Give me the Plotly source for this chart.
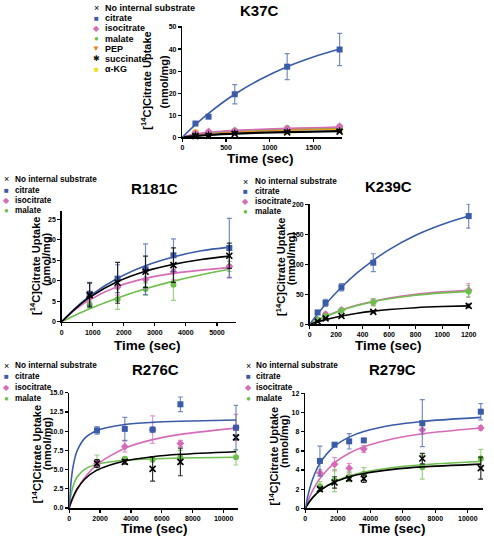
import plotly.graph_objects as go

W, H = 494, 539
FONT = "Liberation Sans, Arial, Helvetica, sans-serif"

C_NONE = "#000000"
C_CIT = "#3a5ba8"
C_ISO = "#d66cb8"
C_MAL = "#6cbf4a"
C_PEP = "#f37a21"
C_SUC = "#111111"
C_AKG = "#efe21a"

# ---------------- K37C ----------------
k37_t = [150, 300, 600, 1200, 1800]
k37_none = [0.5, 0.6, 1.5, 2.2, 2.5]
k37_none_err = [0.3, 0.3, 0.3, 0.3, 0.3]
k37_citrate = [6.2, 9.3, 19.5, 32.0, 39.8]
k37_citrate_err = [0.5, 0.6, 4.4, 5.9, 7.3]
k37_isocitrate = [2.0, 2.6, 3.0, 4.0, 5.0]
k37_isocitrate_err = [0.4, 0.4, 0.4, 0.5, 0.5]
k37_malate = [1.5, 2.0, 3.0, 4.2, 4.5]
k37_malate_err = [0.4, 0.4, 0.4, 0.4, 0.4]
k37_pep = [2.0, 2.2, 2.8, 3.5, 4.0]
k37_pep_err = [0.3, 0.3, 0.3, 0.3, 0.3]
k37_succinate = [1.0, 1.2, 2.0, 2.5, 3.0]
k37_succinate_err = [0.3, 0.3, 0.3, 0.3, 0.3]
k37_akg = [2.2, 1.5, 2.4, 2.5, 3.5]
k37_akg_err = [0.3, 0.3, 0.3, 0.3, 0.3]
k37_fit_t = [0, 150, 300, 450, 600, 900, 1200, 1500, 1800]
k37_fit_none = [0, 0.5, 0.9, 1.2, 1.5, 1.9, 2.2, 2.4, 2.6]
k37_fit_citrate = [0, 5.7, 10.8, 15.4, 19.5, 26.4, 32.0, 36.4, 40.0]
k37_fit_isocitrate = [0, 1.4, 2.2, 2.7, 3.1, 3.6, 4.0, 4.3, 4.6]
k37_fit_malate = [0, 1.2, 2.0, 2.5, 2.9, 3.4, 3.8, 4.1, 4.4]
k37_fit_pep = [0, 1.2, 1.9, 2.3, 2.6, 3.0, 3.4, 3.7, 3.9]
k37_fit_succinate = [0, 0.6, 1.1, 1.5, 1.8, 2.2, 2.5, 2.7, 2.9]
k37_fit_akg = [0, 1.1, 1.8, 2.2, 2.5, 2.9, 3.2, 3.5, 3.7]

# ---------------- R181C ----------------
r181_t = [900, 1800, 2700, 3600, 5400]
r181_none = [6.5, 9.5, 12.2, 13.8, 16.1]
r181_none_err = [2.9, 5.0, 3.8, 4.2, 3.1]
r181_citrate = [6.8, 10.5, 12.8, 16.2, 18.0]
r181_citrate_err = [2.8, 3.4, 6.2, 4.0, 7.2]
r181_isocitrate = [6.0, 8.5, 10.3, 12.2, 13.5]
r181_isocitrate_err = [1.5, 2.0, 2.2, 2.0, 2.9]
r181_malate = [4.2, 5.5, 8.0, 9.0, 13.5]
r181_malate_err = [0.8, 2.5, 1.5, 3.8, 1.2]
r181_fit_t = [0, 450, 900, 1800, 2700, 3600, 4500, 5400]
r181_fit_none = [0, 3.27, 5.92, 9.8, 12.34, 14.0, 15.2, 16.0]
r181_fit_citrate = [0, 3.4, 6.24, 10.6, 13.67, 15.8, 17.3, 18.2]
r181_fit_isocitrate = [0, 3.0, 5.34, 8.6, 10.58, 11.8, 12.6, 13.2]
r181_fit_malate = [0, 1.64, 3.15, 5.8, 8.03, 9.9, 11.48, 12.8]

# ---------------- K239C ----------------
k239_t = [60, 120, 240, 480, 1200]
k239_none = [5, 10, 14, 21, 31]
k239_none_err = [1, 1, 1, 1.5, 3]
k239_citrate = [20, 36, 62, 103, 181]
k239_citrate_err = [3, 6, 6, 15, 20]
k239_isocitrate = [8, 17, 24, 37, 57]
k239_isocitrate_err = [2, 3, 3, 5, 11]
k239_malate = [8, 14, 23, 37, 55]
k239_malate_err = [2, 3, 3, 6, 10]
k239_fit_t = [0, 60, 120, 240, 360, 480, 600, 800, 1000, 1200]
k239_fit_none = [0, 4.25, 7.96, 14, 18.6, 22.1, 24.8, 27.9, 29.8, 31]
k239_fit_citrate = [0, 17.4, 33.5, 62, 86.4, 107, 125, 149, 167, 181]
k239_fit_isocitrate = [0, 7.1, 13.4, 24, 32.3, 38.8, 44, 50.2, 54.3, 57]
k239_fit_malate = [0, 6.9, 13.0, 23.3, 31.4, 37.7, 42.7, 48.6, 52.6, 55.2]

# ---------------- R276C ----------------
r276_t = [1800, 3600, 5400, 7200, 10800]
r276_none = [5.8, 6.0, 5.1, 6.0, 9.2]
r276_none_err = [0.5, 0.3, 1.6, 1.8, 0.3]
r276_citrate = [10.1, 10.3, 10.2, 13.5, 10.45]
r276_citrate_err = [0.5, 1.5, 0.3, 0.95, 2.9]
r276_isocitrate = [5.8, 8.0, 10.2, 8.4, 10.5]
r276_isocitrate_err = [0.5, 0.7, 1.8, 0.4, 1.7]
r276_malate = [5.9, 6.4, 6.3, 6.6, 6.6]
r276_malate_err = [1.0, 0.2, 0.3, 0.9, 1.0]
r276_fit_t = [0, 100, 250, 500, 1000, 1800, 3600, 5400, 7200, 10800]
r276_fit_none = [0, 0.64, 1.43, 2.44, 3.75, 4.93, 6.13, 6.68, 6.99, 7.33]
r276_fit_citrate = [0, 2.96, 5.38, 7.38, 9.07, 10.1, 10.87, 11.15, 11.29, 11.45]
r276_fit_isocitrate = [0, 0.55, 1.29, 2.34, 3.94, 5.66, 7.79, 8.9, 9.59, 10.4]
r276_fit_malate = [0, 1.51, 2.83, 4.0, 5.04, 5.7, 6.21, 6.4, 6.5, 6.6]

# ---------------- R279C ----------------
r279_t = [900, 1800, 2700, 3600, 7200, 10800]
r279_none = [2.0, 2.7, 3.1, 3.1, 5.2, 4.2]
r279_none_err = [0.2, 0.6, 0.2, 0.4, 0.55, 1.15]
r279_citrate = [4.95, 6.65, 7.0, 7.1, 8.9, 10.1]
r279_citrate_err = [1.55, 0.15, 0.8, 0.15, 2.45, 0.85]
r279_isocitrate = [3.7, 4.6, 4.2, 6.2, 8.2, 8.4]
r279_isocitrate_err = [0.35, 0.7, 0.5, 0.35, 0.45, 0.25]
r279_malate = [2.3, 2.9, 3.3, 3.6, 4.3, 5.2]
r279_malate_err = [0.5, 1.15, 0.5, 0.65, 1.25, 0.95]
r279_fit_t = [0, 200, 450, 900, 1800, 2700, 3600, 5400, 7200, 10800]
r279_fit_none = [0, 0.56, 1.12, 1.85, 2.75, 3.28, 3.63, 4.07, 4.33, 4.62]
r279_fit_citrate = [0, 1.61, 3.04, 4.72, 6.5, 7.44, 8.02, 8.70, 9.08, 9.5]
r279_fit_isocitrate = [0, 0.92, 1.85, 3.12, 4.75, 5.75, 6.43, 7.28, 7.8, 8.4]
r279_fit_malate = [0, 0.55, 1.10, 1.85, 2.8, 3.38, 3.77, 4.26, 4.56, 4.9]

# panel titles / legend labels
panel_titles = ["K37C", "R181C", "K239C", "R276C", "R279C"]
legend_full = ["No internal substrate", "citrate", "isocitrate", "malate", "PEP", "succinate", "α-KG"]
legend_short = ["No internal substrate", "citrate", "isocitrate", "malate"]

STY = {
    "none": dict(symbol="x-thin", size=6, color=C_NONE, line=dict(color=C_NONE, width=1.6)),
    "cit": dict(symbol="square", size=6, color=C_CIT),
    "iso": dict(symbol="diamond", size=6, color=C_ISO),
    "mal": dict(symbol="circle", size=6, color=C_MAL),
    "pep": dict(symbol="triangle-down", size=6, color=C_PEP),
    "suc": dict(symbol="star", size=6, color=C_SUC),
    "akg": dict(symbol="square", size=6, color=C_AKG),
}
LINE_COL = {"none": C_NONE, "cit": C_CIT, "iso": C_ISO, "mal": C_MAL,
            "pep": C_PEP, "suc": C_SUC, "akg": C_AKG}
ERR_COL = {"none": "rgba(0,0,0,0.8)", "cit": "rgba(58,91,168,0.7)", "iso": "rgba(214,108,184,0.7)",
           "mal": "rgba(108,191,74,0.7)", "pep": "rgba(243,122,33,0.7)", "suc": "rgba(0,0,0,0.8)",
           "akg": "rgba(239,226,26,0.8)"}

fig = go.Figure()


def add_series(k, xname, yname, ft, fy, t, y, e):
    fig.add_trace(go.Scatter(x=ft, y=fy, mode="lines", xaxis=xname, yaxis=yname,
                             line=dict(color=LINE_COL[k], width=1.6, shape="spline", smoothing=0.8),
                             hoverinfo="skip"))
    fig.add_trace(go.Scatter(x=t, y=y, mode="markers", xaxis=xname, yaxis=yname,
                             marker=STY[k], cliponaxis=False,
                             error_y=dict(type="data", array=e, visible=True, color=ERR_COL[k],
                                          thickness=1.2, width=2.5)))


# K37C
for k, fy, y, e in [
    ("akg", k37_fit_akg, k37_akg, k37_akg_err),
    ("pep", k37_fit_pep, k37_pep, k37_pep_err),
    ("mal", k37_fit_malate, k37_malate, k37_malate_err),
    ("iso", k37_fit_isocitrate, k37_isocitrate, k37_isocitrate_err),
    ("suc", k37_fit_succinate, k37_succinate, k37_succinate_err),
    ("none", k37_fit_none, k37_none, k37_none_err),
    ("cit", k37_fit_citrate, k37_citrate, k37_citrate_err),
]:
    add_series(k, "x", "y", k37_fit_t, fy, k37_t, y, e)

# R181C
for k, fy, y, e in [
    ("mal", r181_fit_malate, r181_malate, r181_malate_err),
    ("iso", r181_fit_isocitrate, r181_isocitrate, r181_isocitrate_err),
    ("cit", r181_fit_citrate, r181_citrate, r181_citrate_err),
    ("none", r181_fit_none, r181_none, r181_none_err),
]:
    add_series(k, "x2", "y2", r181_fit_t, fy, r181_t, y, e)

# K239C
for k, fy, y, e in [
    ("iso", k239_fit_isocitrate, k239_isocitrate, k239_isocitrate_err),
    ("mal", k239_fit_malate, k239_malate, k239_malate_err),
    ("none", k239_fit_none, k239_none, k239_none_err),
    ("cit", k239_fit_citrate, k239_citrate, k239_citrate_err),
]:
    add_series(k, "x3", "y3", k239_fit_t, fy, k239_t, y, e)

# R276C
for k, fy, y, e in [
    ("mal", r276_fit_malate, r276_malate, r276_malate_err),
    ("iso", r276_fit_isocitrate, r276_isocitrate, r276_isocitrate_err),
    ("none", r276_fit_none, r276_none, r276_none_err),
    ("cit", r276_fit_citrate, r276_citrate, r276_citrate_err),
]:
    add_series(k, "x4", "y4", r276_fit_t, fy, r276_t, y, e)

# R279C
for k, fy, y, e in [
    ("iso", r279_fit_isocitrate, r279_isocitrate, r279_isocitrate_err),
    ("mal", r279_fit_malate, r279_malate, r279_malate_err),
    ("none", r279_fit_none, r279_none, r279_none_err),
    ("cit", r279_fit_citrate, r279_citrate, r279_citrate_err),
]:
    add_series(k, "x5", "y5", r279_fit_t, fy, r279_t, y, e)


def fx(p):
    return p / W


def fy(p):
    return 1 - p / H


TICKFONT = dict(family=FONT, size=7, color="black", weight="bold")


def axis(dom, rng, dtick, anchor, fmt="d"):
    return dict(domain=dom, range=rng, dtick=dtick, tick0=0, anchor=anchor,
                showline=True, linecolor="black", linewidth=1.5, ticks="outside",
                ticklen=3, tickwidth=1.2, tickcolor="black", showgrid=False,
                zeroline=False, tickfont=TICKFONT, fixedrange=True, tickformat=fmt)


layout_axes = dict(
    xaxis=axis([fx(183.3), fx(346)], [0, 1832], 500, "y"),
    yaxis=axis([fy(135.7), fy(23.2)], [0, 50.5], 10, "x"),
    xaxis2=axis([fx(60.7), fx(238)], [0, 5620], 1000, "y2"),
    yaxis2=axis([fy(322.3), fy(210)], [0, 27.1], 5, "x2"),
    xaxis3=axis([fx(312.7), fx(476)], [0, 1212], 200, "y3"),
    yaxis3=axis([fy(325), fy(203)], [0, 201.6], 50, "x3"),
    xaxis4=axis([fx(68.3), fx(240)], [0, 10936], 2000, "y4"),
    yaxis4=axis([fy(510.7), fy(394)], [0, 15.02], 2.5, "x4", ".1f"),
    xaxis5=axis([fx(308.3), fx(489)], [0, 10940], 2000, "y5"),
    yaxis5=axis([fy(511), fy(394.7)], [0, 12.02], 2, "x5"),
)

ann = []


def text(x, y, s, size, anchor="center", angle=0, color="black"):
    ann.append(dict(x=fx(x), y=fy(y), xref="paper", yref="paper", text=s, showarrow=False,
                    xanchor=anchor, yanchor="middle", textangle=angle, borderpad=0,
                    font=dict(family=FONT, size=size, color=color)))


# titles
for (x, y), t in zip([(262, 8), (155, 188), (393, 186), (156, 371), (397, 371)], panel_titles):
    text(x, y, "<b>%s</b>" % t, 15)

# x axis titles
for x, y in [(263, 157), (148, 346), (393, 346), (155, 531), (397, 531)]:
    text(x, y, "<b>Time (sec)</b>", 13.5)

# y axis titles (two lines)
YL1 = "<b>[<sup>14</sup>C]Citrate Uptake</b>"
YL2 = "<b>(nmol/mg)</b>"
for (x1, y1, x2, y2) in [(147, 79, 165, 80), (33.5, 266, 44.5, 259), (283.5, 267, 294, 259),
                         (35, 456, 46, 446), (276, 459, 286.5, 443)]:
    text(x1, y1, YL1, 11, angle=-90)
    text(x2, y2, YL2, 11, angle=-90)

# legends (symbol glyph + label)
SYM = [("×", C_NONE, 9), ("■", C_CIT, 8), ("◆", C_ISO, 8), ("●", C_MAL, 8),
       ("▼", C_PEP, 8), ("✱", C_SUC, 8), ("■", C_AKG, 8)]


def legend(sx, tx, rows, labels, size):
    for i, (lab, yy) in enumerate(zip(labels, rows)):
        g, c, s = SYM[i]
        text(sx, yy, g, s, color=c)
        text(tx, yy, "<b>%s</b>" % lab, size, anchor="left")


legend(96, 104, [5, 15.3, 25.6, 35.9, 46.2, 56.5, 66.8], legend_full, 9)
legend(5, 12, [178.3, 190, 200, 210], legend_short, 8.2)
legend(248, 256, [181, 191, 201, 211], legend_short, 8.2)
legend(5, 12, [367, 378, 389, 400], legend_short, 8.2)
legend(250.5, 257, [367, 378, 389, 400], legend_short, 8.2)

fig.update_layout(
    width=W, height=H, margin=dict(l=0, r=0, t=0, b=0),
    paper_bgcolor="white", plot_bgcolor="white", showlegend=False,
    font=dict(family=FONT, color="black"),
    annotations=ann, **layout_axes,
)

fig.write_html("out.html", config={"displayModeBar": False, "staticPlot": True},
               post_script="document.body.style.margin='0px';document.body.style.padding='0px';"
                           "document.body.style.overflow='hidden';")
